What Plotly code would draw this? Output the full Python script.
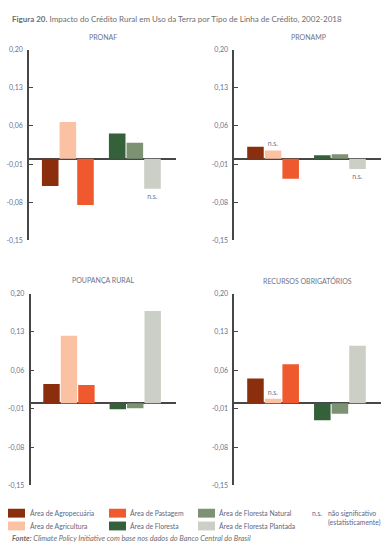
import plotly.graph_objects as go

W, H = 389, 559

# ---------------- data ----------------
series = ["Área de Agropecuária", "Área de Agricultura", "Área de Pastagem",
          "Área de Floresta", "Área de Floresta Natural", "Área de Floresta Plantada"]
colors = ["#8B2E0E", "#FBC1A3", "#F0592D", "#35613A", "#7D9173", "#CBCFC5"]
groups = ["Uso agropecuário", "Uso agropecuário", "Uso agropecuário",
          "Uso florestal", "Uso florestal", "Uso florestal"]
slots = ["a", "b", "c", "a", "b", "c"]

panels = ["PRONAF", "PRONAMP", "POUPANÇA RURAL", "RECURSOS OBRIGATÓRIOS"]
pronaf = [-0.050, 0.067, -0.085, 0.046, 0.029, -0.055]
pronamp = [0.022, 0.015, -0.037, 0.006, 0.008, -0.019]
poupanca = [0.035, 0.123, 0.033, -0.011, -0.009, 0.168]
recursos = [0.045, 0.008, 0.071, -0.031, -0.019, 0.105]
values = [pronaf, pronamp, poupanca, recursos]

ns_pronaf = [False, False, False, False, False, True]
ns_pronamp = [False, True, False, False, False, True]
ns_poupanca = [False, False, False, False, False, False]
ns_recursos = [False, True, False, False, False, False]
ns_flags = [ns_pronaf, ns_pronamp, ns_poupanca, ns_recursos]

tickvals = [0.20, 0.13, 0.06, -0.01, -0.08, -0.15]
ticktext = ["0,20", "0,13", "0,06", "-0,01", "-0,08", "-0,15"]

title_bold = "Figura 20."
title_rest = " Impacto do Crédito Rural em Uso da Terra por Tipo de Linha de Crédito, 2002-2018"
ns_label = "n.s."
ns_desc = ["não significativo", "(estatisticamente)"]
source_bold = "Fonte:"
source_rest = " Climate Policy Initiative com base nos dados do Banco Central do Brasil"

# ---------------- layout helpers ----------------
FONT = "Lato"
AXC = "#474747"
LBL = "#6b7290"


def px(x):
    return x / W


def py(y):
    return 1 - y / H


x_domains = [(29.0, 175.7), (234.3, 380.7), (30.5, 175.7), (234.3, 380.7)]
y_domains = [(45.3, 239.3), (45.3, 239.3), (293.3, 488.3), (293.3, 488.3)]
title_pos = [(103, 33), (308, 33), (103, 280), (307, 280)]

fig = go.Figure()

for p in range(4):
    xa = "x" if p == 0 else f"x{p + 1}"
    ya = "y" if p == 0 else f"y{p + 1}"
    for s in range(6):
        fig.add_trace(go.Bar(
            x=[groups[s]], y=[values[p][s]],
            name=series[s], offsetgroup=slots[s],
            marker=dict(color=colors[s], line=dict(width=0)),
            text=[ns_label if ns_flags[p][s] else ""],
            textposition="outside",
            textfont=dict(family=FONT, size=7, color=LBL),
            cliponaxis=False,
            showlegend=False,
            xaxis=xa, yaxis=ya,
        ))

layout = dict(
    width=W, height=H,
    margin=dict(l=0, r=0, t=0, b=0),
    paper_bgcolor="white", plot_bgcolor="white",
    barmode="group", bargap=0.21, bargroupgap=0.06,
    font=dict(family=FONT, size=7, color=LBL),
    showlegend=False,
)

for p in range(4):
    xk = "xaxis" if p == 0 else f"xaxis{p + 1}"
    yk = "yaxis" if p == 0 else f"yaxis{p + 1}"
    yref = "y" if p == 0 else f"y{p + 1}"
    xref = "x" if p == 0 else f"x{p + 1}"
    x0, x1 = x_domains[p]
    y0, y1 = y_domains[p]
    layout[xk] = dict(
        domain=[px(x0), px(x1)], anchor=yref,
        type="category", categoryorder="array",
        categoryarray=["Uso agropecuário", "Uso florestal"],
        range=[-0.58, 1.61], visible=False, fixedrange=True,
    )
    layout[yk] = dict(
        domain=[py(y1), py(y0)], anchor=xref,
        range=[-0.15, 0.20], tickvals=tickvals, ticktext=ticktext,
        showline=True, linecolor=AXC, linewidth=1.5,
        ticks="inside", ticklen=4, tickwidth=1.2, tickcolor=AXC,
        showgrid=False, zeroline=True, zerolinecolor=AXC, zerolinewidth=1.5,
        tickfont=dict(family=FONT, size=7, color=LBL),
        ticklabelstandoff=3, fixedrange=True,
    )

fig.update_layout(**layout)

annotations = []
shapes = []

# figure title
annotations.append(dict(
    x=px(10), y=py(14), xref="paper", yref="paper", xanchor="left", yanchor="middle",
    text=f"<b>{title_bold}</b>{title_rest}", showarrow=False,
    font=dict(family=FONT, size=8, color="#6e6e6e"),
))

# panel titles
for p in range(4):
    tx, ty = title_pos[p]
    annotations.append(dict(
        x=px(tx), y=py(ty), xref="paper", yref="paper", xanchor="center", yanchor="middle",
        text=panels[p], showarrow=False,
        font=dict(family=FONT, size=7, color="#707386"),
    ))

# legend (drawn manually as a 3x2 grid)
leg_cols = [(8, 28), (109, 128), (198, 217)]
leg_rows = [(512, 521, 516.5), (525, 534, 529.5)]
for s in range(6):
    c, r = s // 2, s % 2
    sx, tx = leg_cols[c]
    ry0, ry1, ryc = leg_rows[r]
    shapes.append(dict(
        type="rect", xref="paper", yref="paper",
        x0=px(sx), x1=px(sx + 17), y0=py(ry1), y1=py(ry0),
        fillcolor=colors[s], line=dict(width=0),
    ))
    annotations.append(dict(
        x=px(tx), y=py(ryc), xref="paper", yref="paper", xanchor="left", yanchor="middle",
        text=series[s], showarrow=False,
        font=dict(family=FONT, size=6.8, color="#5f6680"),
    ))

annotations.append(dict(
    x=px(310), y=py(516.5), xref="paper", yref="paper", xanchor="left", yanchor="middle",
    text=ns_label, showarrow=False, font=dict(family=FONT, size=6.8, color="#5f6680"),
))
for i, t in enumerate(ns_desc):
    annotations.append(dict(
        x=px(326), y=py(516.5 + 9 * i), xref="paper", yref="paper", xanchor="left",
        yanchor="middle", text=t, showarrow=False,
        font=dict(family=FONT, size=6.8, color="#5f6680"),
    ))

# source
annotations.append(dict(
    x=px(10), y=py(542), xref="paper", yref="paper", xanchor="left", yanchor="middle",
    text=f"<b><i>{source_bold}</i></b><i>{source_rest}</i>", showarrow=False,
    font=dict(family=FONT, size=7.4, color="#6e6e6e"),
))

fig.update_layout(annotations=annotations, shapes=shapes)

fig.write_html(
    "out.html",
    config={"displayModeBar": False},
    post_script="document.body.style.margin='0px';document.body.style.overflow='hidden';",
)
